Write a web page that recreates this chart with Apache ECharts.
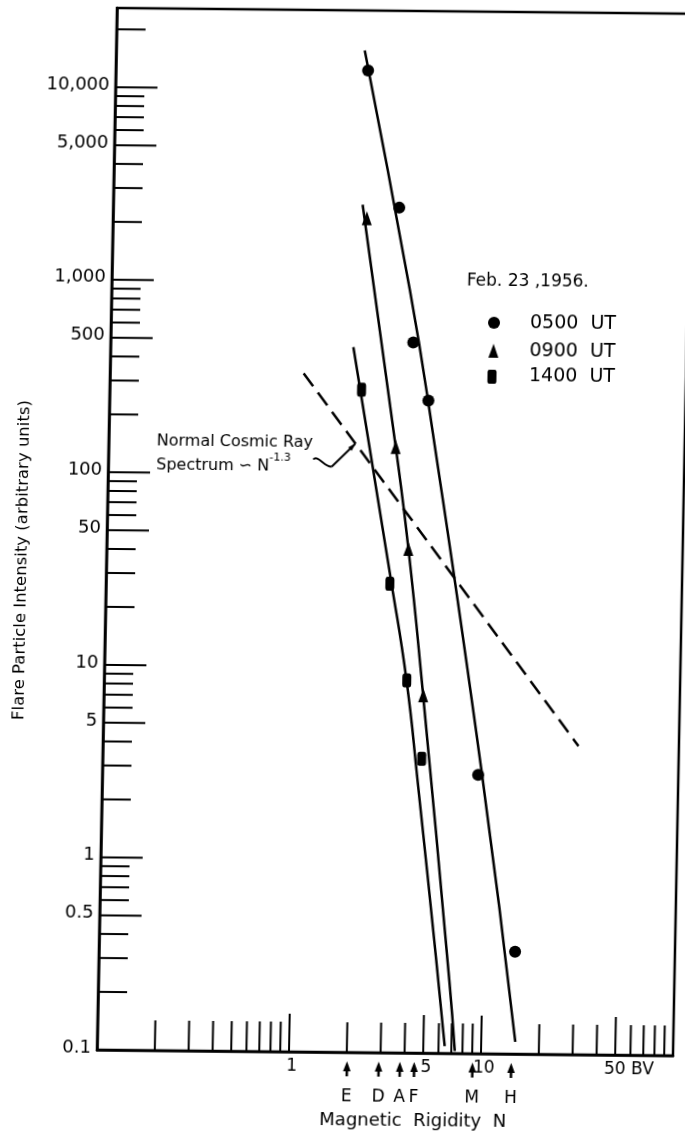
<!DOCTYPE html>
<html>
<head>
<meta charset="utf-8">
<script src="https://cdn.jsdelivr.net/npm/echarts@6/dist/echarts.min.js"></script>
<style>
  html, body { margin: 0; padding: 0; background: #fff; overflow: hidden; }
  /* the whole figure sits with a slight tilt on its page */
  #chart { width: 685px; height: 1138px; transform-origin: 97px 1050px;
           transform: matrix(1, 0.01, -0.0192, 1, 0, 0); }
</style>
</head>
<body>
<div id="chart"></div>
<script>
// ---- axis ticks and labels ----
const xMajorTicks = [1, 5, 10, 50];
const xMinorTicks = [0.2, 0.3, 0.4, 0.5, 0.6, 0.7, 0.8, 0.9,
                     2, 3, 4, 6, 7, 8, 9,
                     20, 30, 40, 60, 70, 80, 90];
const xLabelValues = [1, 5, 10, 50];
const xTickLabels = ['1', '5', '10', '50 BV'];

const yMajorTicks = [0.5, 1, 5, 10, 50, 100, 500, 1000, 5000, 10000];
const yMinorTicks = [0.2, 0.3, 0.4, 0.6, 0.7, 0.8, 0.9,
                     2, 3, 4, 6, 7, 8, 9,
                     20, 30, 40, 60, 70, 80, 90,
                     200, 300, 400, 600, 700, 800, 900,
                     2000, 3000, 4000, 6000, 7000, 8000, 9000,
                     20000];
const yLabelValues = [0.1, 0.5, 1, 5, 10, 50, 100, 500, 1000, 5000, 10000];
const yTickLabels = ['0.1', '0.5', '1', '5', '10', '50', '100', '500', '1,000', '5,000', '10,000'];

// ---- neutron monitor stations (cutoff rigidity, BV) ----
const stationNames = ['E', 'D', 'A', 'F', 'M', 'H'];
const stationRigidity = [2.01, 2.94, 3.79, 4.50, 9.05, 14.4];

// ---- measured flare particle intensities ----
const rigidity0500 = [2.06, 3.09, 3.77, 4.58, 9.07, 14.7];
const flux0500     = [12600, 2450, 490, 245, 2.8, 0.34];
const rigidity0900 = [2.10, 3.13, 3.73, 4.61];
const flux0900     = [2150, 140, 41.5, 7.2];
const rigidity1400 = [2.05, 3.01, 3.77, 4.59];
const flux1400     = [277, 27.3, 8.6, 3.37];

// ---- hand-fitted spectrum curves ----
const curve0500N = [1.97, 3.58, 4.56, 9.50, 15.05];
const curve0500I = [16000, 913, 245, 2.81, 0.1156];
const curve0900N = [1.99, 3.13, 3.73, 4.51, 6.73, 7.30];
const curve0900I = [2530, 140, 41.5, 8.6, 0.238, 0.103];
const curve1400N = [1.84, 3.04, 3.76, 4.39, 5.73, 6.46];
const curve1400I = [460, 28.9, 8.58, 2.6, 0.302, 0.109];

// ---- normal cosmic ray spectrum, ~ N^-1.3 ----
const cosmicN = [1.02, 30];
const cosmicI = [334, 4.0];

const ink = '#000';
const FONT = 'DejaVu Sans';
const pairs = (xs, ys) => xs.map((x, i) => [x, ys[i]]);

const chart = echarts.init(document.getElementById('chart'), null, { renderer: 'canvas' });

function yTickSeries(values, len) {
  return {
    type: 'custom', silent: true, clip: false, z: 5,
    data: values.map(v => [0.1, v]),
    renderItem: (params, api) => {
      const p = api.coord([api.value(0), api.value(1)]);
      return { type: 'line', shape: { x1: p[0], y1: p[1], x2: p[0] + len, y2: p[1] },
               style: { stroke: ink, lineWidth: 2 } };
    }
  };
}
function xTickSeries(values, len) {
  return {
    type: 'custom', silent: true, clip: false, z: 5,
    data: values.map(v => [v, 0.1]),
    renderItem: (params, api) => {
      const p = api.coord([api.value(0), api.value(1)]);
      return { type: 'line', shape: { x1: p[0], y1: p[1], x2: p[0], y2: p[1] - len },
               style: { stroke: ink, lineWidth: 2 } };
    }
  };
}
function textStyle(text, x, y, size, align, valign) {
  return { text, x, y, font: size + 'px "' + FONT + '"', fill: ink,
           align, textAlign: align, verticalAlign: valign, textVerticalAlign: valign };
}

const lineStyle = { color: ink, width: 2.5 };
const markStyle = { color: ink, opacity: 1 };

const option = {
  animation: false,
  backgroundColor: '#fff',
  grid: { left: 97, top: 8, width: 576, height: 1042, show: true,
          borderColor: ink, borderWidth: 2.5, backgroundColor: 'transparent' },
  xAxis: { type: 'log', logBase: 10, min: 0.1, max: 100,
           axisLine: { show: true, lineStyle: { color: ink, width: 2.5 } },
           axisTick: { show: false }, axisLabel: { show: false }, splitLine: { show: false } },
  yAxis: { type: 'log', logBase: 10, min: 0.1, max: 25800,
           axisLine: { show: true, lineStyle: { color: ink, width: 2.5 } },
           axisTick: { show: false }, axisLabel: { show: false }, splitLine: { show: false } },
  series: [
    yTickSeries(yMajorTicks, 42),
    yTickSeries(yMinorTicks, 29),
    xTickSeries(xMajorTicks, 38),
    xTickSeries(xMinorTicks, 30),
    { // y tick labels
      type: 'custom', silent: true, clip: false,
      data: yLabelValues.map(v => [0.1, v]),
      renderItem: (params, api) => {
        const p = api.coord([api.value(0), api.value(1)]);
        return { type: 'text', style: textStyle(yTickLabels[params.dataIndex], p[0] - 6, p[1] - 2, 18, 'right', 'middle') };
      }
    },
    { // x tick labels
      type: 'custom', silent: true, clip: false,
      data: xLabelValues.map(v => [v, 0.1]),
      renderItem: (params, api) => {
        const p = api.coord([api.value(0), api.value(1)]);
        const t = xTickLabels[params.dataIndex];
        const wide = t.indexOf(' ') >= 0;
        return { type: 'text', style: textStyle(t, wide ? p[0] - 11 : p[0] + 3, p[1] + 15, 17, wide ? 'left' : 'center', 'middle') };
      }
    },
    { // station cutoff arrows
      type: 'custom', silent: true, clip: false,
      data: stationRigidity.map(v => [v, 0.1]),
      renderItem: (params, api) => {
        const p = api.coord([api.value(0), api.value(1)]);
        const x = p[0], y = p[1];
        return { type: 'group', children: [
          { type: 'line', shape: { x1: x, y1: y + 14, x2: x, y2: y + 24 }, style: { stroke: ink, lineWidth: 2.5 } },
          { type: 'polygon', shape: { points: [[x, y + 9], [x - 3.8, y + 19], [x + 3.8, y + 19]] }, style: { fill: ink } },
          { type: 'text', style: textStyle(stationNames[params.dataIndex], x, y + 45, 17, 'center', 'middle') }
        ] };
      }
    },
    { type: 'line', name: 'cosmic', data: pairs(cosmicN, cosmicI), symbol: 'none', silent: true,
      lineStyle: { color: ink, width: 2.5, type: [16, 8] } },
    { type: 'line', name: '0500 UT fit', data: pairs(curve0500N, curve0500I), symbol: 'none', smooth: 0.5, silent: true, lineStyle },
    { type: 'line', name: '0900 UT fit', data: pairs(curve0900N, curve0900I), symbol: 'none', smooth: 0.5, silent: true, lineStyle },
    { type: 'line', name: '1400 UT fit', data: pairs(curve1400N, curve1400I), symbol: 'none', smooth: 0.5, silent: true, lineStyle },
    { type: 'scatter', name: '0500 UT', data: pairs(rigidity0500, flux0500), symbol: 'circle', symbolSize: 12,
      itemStyle: markStyle, z: 10, silent: true },
    { type: 'scatter', name: '0900 UT', data: pairs(rigidity0900, flux0900), symbol: 'triangle', symbolSize: [10, 14],
      itemStyle: markStyle, z: 10, silent: true },
    { type: 'scatter', name: '1400 UT', data: pairs(rigidity1400, flux1400), symbol: 'roundRect', symbolSize: [9, 14],
      itemStyle: markStyle, z: 10, silent: true }
  ],
  graphic: [
    // axis titles
    { type: 'text', x: 13, y: 561, rotation: Math.PI / 2,
      style: textStyle('Flare Particle Intensity (arbitrary units)', 0, 0, 16.5, 'center', 'middle') },
    { type: 'text', x: 414, y: 1118,
      style: textStyle('Magnetic  Rigidity  N', 0, 0, 18, 'center', 'middle') },
    // legend
    { type: 'text', x: 452, y: 278, style: textStyle('Feb. 23 ,1956.', 0, 0, 17, 'left', 'middle') },
    { type: 'circle', shape: { cx: 480, cy: 319, r: 6 }, style: { fill: ink } },
    { type: 'polygon', shape: { points: [[480, 340], [475, 354], [485, 354]] }, style: { fill: ink } },
    { type: 'rect', shape: { x: 474.5, y: 366, width: 9, height: 14, r: 2 }, style: { fill: ink } },
    { type: 'text', x: 516, y: 319, style: textStyle('0500  UT', 0, 0, 19, 'left', 'middle') },
    { type: 'text', x: 516, y: 347, style: textStyle('0900  UT', 0, 0, 19, 'left', 'middle') },
    { type: 'text', x: 516, y: 372, style: textStyle('1400  UT', 0, 0, 19, 'left', 'middle') },
    // cosmic ray annotation
    { type: 'text', x: 145, y: 441, style: textStyle('Normal Cosmic Ray', 0, 0, 16, 'left', 'middle') },
    { type: 'text', x: 145, y: 462,
      style: { text: '{a|Spectrum ∽ N}{s|-1.3}', x: 0, y: 0, fill: ink,
               align: 'left', textAlign: 'left', verticalAlign: 'middle', textVerticalAlign: 'middle',
               rich: { a: { fontSize: 16, fontFamily: FONT, lineHeight: 22, verticalAlign: 'bottom' },
                       s: { fontSize: 11, fontFamily: FONT, verticalAlign: 'top' } } } },
    { type: 'bezierCurve', shape: { x1: 302, y1: 457.5, cpx1: 306, cpy1: 452, cpx2: 314, cpy2: 466, x2: 320.5, y2: 464.5 },
      style: { stroke: ink, lineWidth: 2, fill: null } },
    { type: 'line', shape: { x1: 320.5, y1: 464.5, x2: 343.5, y2: 441.5 }, style: { stroke: ink, lineWidth: 2 } },
    { type: 'polygon', shape: { points: [[344, 441], [340.2, 448.5], [336.6, 445]] }, style: { fill: ink } }
  ]
};

chart.setOption(option);
</script>
</body>
</html>
